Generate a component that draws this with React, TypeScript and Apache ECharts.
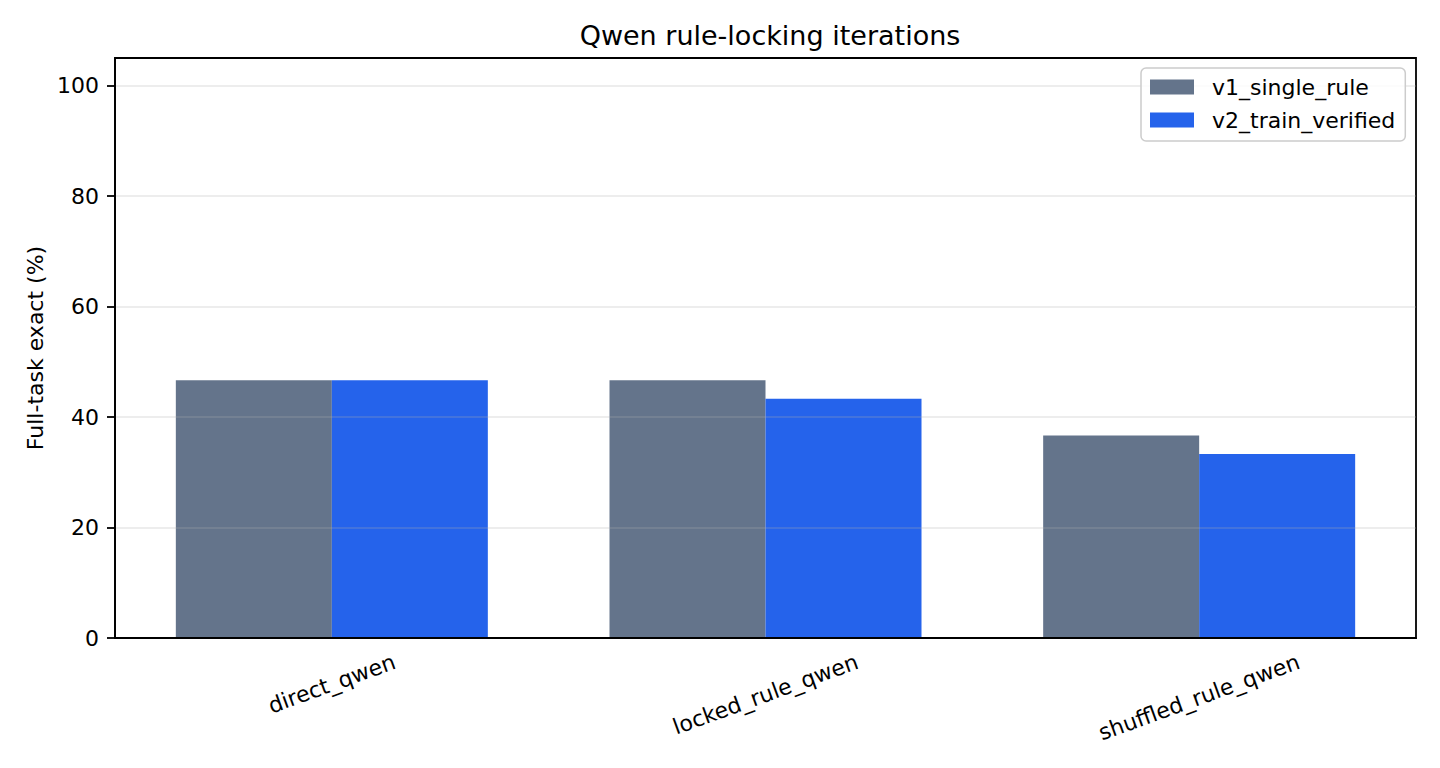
import React, { useEffect, useRef } from "react";
import * as echarts from "echarts";

const categories = ["direct_qwen", "locked_rule_qwen", "shuffled_rule_qwen"];
const seriesNames = ["v1_single_rule", "v2_train_verified"];
const v1SingleRule = [46.67, 46.67, 36.67];
const v2TrainVerified = [46.67, 43.33, 33.33];
const yTicks = [0, 20, 40, 60, 80, 100];
const titleText = "Qwen rule-locking iterations";
const yAxisName = "Full-task exact (%)";

const FONT = "DejaVu Sans";
const ROT = 20;
const LABEL_SIZE = 22;
const LABEL_LH = 22;

function measure(text: string, size: number): number {
  const ctx = document.createElement("canvas").getContext("2d");
  if (!ctx) return text.length * size * 0.58;
  ctx.font = `${size}px "${FONT}"`;
  return ctx.measureText(text).width;
}

export default function App() {
  const ref = useRef<HTMLDivElement>(null);
  useEffect(() => {
    document.body.style.margin = "0";
    if (!ref.current) return;
    const chart = echarts.init(ref.current, null, { renderer: "svg" });
    const s = Math.sin((ROT * Math.PI) / 180);
    const c = Math.cos((ROT * Math.PI) / 180);
    // Rotated labels are centred under their tick (matplotlib ha="center"),
    // so the distance of each label's centre from the axis depends on its width.
    const xData = categories.map((name) => {
      const w = measure(name, LABEL_SIZE);
      const D = 23 + (w * s) / 2;
      const pt = Math.max(0, D * c - LABEL_LH / 2);
      const pr = 2 * D * s;
      return {
        value: name,
        textStyle: {
          align: "center",
          verticalAlign: "top",
          fontFamily: FONT,
          fontSize: LABEL_SIZE,
          lineHeight: LABEL_LH,
          color: "#000",
          padding: [pt, pr, 0, 0],
        },
      };
    });
    const axisColor = "#000";
    chart.setOption({
      animation: false,
      textStyle: { fontFamily: FONT },
      title: {
        text: titleText,
        left: 765,
        textAlign: "center",
        top: 17,
        textStyle: { fontFamily: FONT, fontSize: 27, fontWeight: "normal", color: "#000" },
      },
      legend: {
        data: seriesNames,
        orient: "vertical",
        left: 1141,
        top: 68,
        z: 10,
        icon: "rect",
        itemWidth: 44,
        itemHeight: 15,
        itemGap: 11,
        padding: [8, 10, 10, 9],
        backgroundColor: "rgba(255,255,255,0.8)",
        borderColor: "#cccccc",
        borderWidth: 1.5,
        borderRadius: 5,
        textStyle: {
          fontFamily: FONT,
          fontSize: 22,
          color: "#000",
          lineHeight: 22,
          padding: [0, 0, 0, 13],
        },
      },
      grid: {
        left: 115,
        right: 24,
        top: 58,
        bottom: 130,
        show: true,
        borderColor: axisColor,
        borderWidth: 1.8,
        backgroundColor: "transparent",
      },
      xAxis: {
        type: "category",
        data: xData,
        z: 3,
        boundaryGap: true,
        axisLine: { lineStyle: { color: axisColor, width: 1.8 } },
        axisTick: { alignWithLabel: true, length: 8, lineStyle: { color: axisColor, width: 1.8 } },
        axisLabel: {
          interval: 0,
          rotate: ROT,
          margin: 0,
          fontFamily: FONT,
          fontSize: LABEL_SIZE,
          color: "#000",
        },
        splitLine: { show: false },
      },
      yAxis: {
        type: "value",
        min: 0,
        max: 105,
        interval: 20,
        z: 3,
        name: yAxisName,
        nameLocation: "middle",
        nameGap: 66,
        nameTextStyle: { fontFamily: FONT, fontSize: 22, color: "#000" },
        axisLine: { show: true, lineStyle: { color: axisColor, width: 1.8 } },
        axisTick: {
          show: true,
          length: 8,
          customValues: yTicks,
          lineStyle: { color: axisColor, width: 1.8 },
        },
        axisLabel: {
          customValues: yTicks,
          margin: 16,
          fontFamily: FONT,
          fontSize: 22,
          color: "#000",
        },
        splitLine: { show: true, lineStyle: { color: "rgba(176,176,176,0.3)", width: 1.6 } },
      },
      series: [
        {
          name: seriesNames[0],
          type: "bar",
          data: v1SingleRule,
          barWidth: 156,
          barGap: "0%",
          itemStyle: { color: "#64748b" },
        },
        {
          name: seriesNames[1],
          type: "bar",
          data: v2TrainVerified,
          barWidth: 156,
          barGap: "0%",
          itemStyle: { color: "#2563eb" },
        },
      ],
    });
    return () => chart.dispose();
  }, []);
  return <div ref={ref} style={{ width: 1440, height: 768 }} />;
}
